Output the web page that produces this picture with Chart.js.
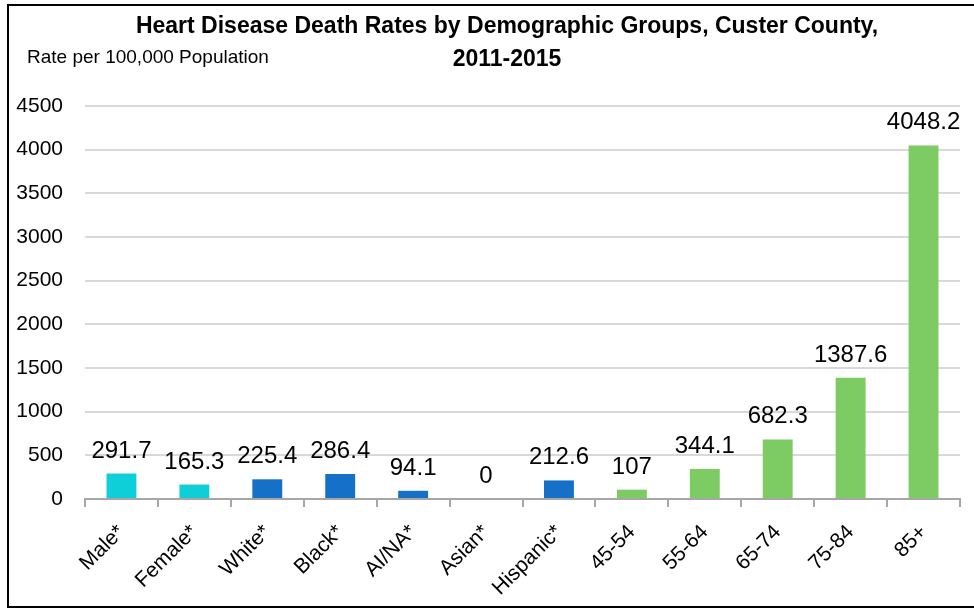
<!DOCTYPE html>
<html>
<head>
<meta charset="utf-8">
<script src="https://cdn.jsdelivr.net/npm/chart.js@4"></script>
<style>
  html, body { margin: 0; padding: 0; background: #fff; }
  #wrap { width: 974px; height: 609px; position: relative; }
</style>
</head>
<body>
<div id="wrap"><canvas id="myChart" width="974" height="609"></canvas></div>
<script>
var categories = ['Male*', 'Female*', 'White*', 'Black*', 'AI/NA*', 'Asian*', 'Hispanic*', '45-54', '55-64', '65-74', '75-84', '85+'];
var rates = [291.7, 165.3, 225.4, 286.4, 94.1, 0, 212.6, 107, 344.1, 682.3, 1387.6, 4048.2];
var barColors = ['#0ecfd8', '#0ecfd8', '#1570c8', '#1570c8', '#1570c8', '#1570c8', '#1570c8',
                 '#7dcb63', '#7dcb63', '#7dcb63', '#7dcb63', '#7dcb63'];
var titleLines = ['Heart Disease Death Rates by Demographic Groups, Custer County,', '2011-2015'];
var yLabel = 'Rate per 100,000 Population';

var FONT = "'Liberation Sans', Arial, sans-serif";

// value labels above bars, titles and the frame
var extras = {
    id: 'extras',
    afterDatasetsDraw: function (chart) {
        var ctx = chart.ctx;
        var meta = chart.getDatasetMeta(0);
        ctx.save();
        ctx.fillStyle = '#000';
        ctx.font = '24px ' + FONT;
        ctx.textAlign = 'center';
        ctx.textBaseline = 'alphabetic';
        meta.data.forEach(function (bar, i) {
            ctx.fillText(String(rates[i]), bar.x, bar.y - 16);
        });
        ctx.restore();
    },
    afterDraw: function (chart) {
        var ctx = chart.ctx;
        ctx.save();
        ctx.fillStyle = '#000';
        ctx.textAlign = 'center';
        ctx.textBaseline = 'middle';
        ctx.font = 'bold 23px ' + FONT;
        ctx.fillText(titleLines[0], 507, 27);
        ctx.fillText(titleLines[1], 507, 60);
        ctx.textAlign = 'left';
        ctx.font = '19px ' + FONT;
        ctx.fillText(yLabel, 27, 58);
        ctx.strokeStyle = '#000';
        ctx.lineWidth = 2;
        ctx.beginPath();
        ctx.moveTo(980, 5);
        ctx.lineTo(8, 5);
        ctx.lineTo(8, 607);
        ctx.lineTo(980, 607);
        ctx.stroke();
        ctx.restore();
    }
};

var ctx = document.getElementById('myChart').getContext('2d');
var myChart = new Chart(ctx, {
    type: 'bar',
    data: {
        labels: categories,
        datasets: [{
            data: rates,
            backgroundColor: barColors,
            barPercentage: 0.41,
            categoryPercentage: 1
        }]
    },
    options: {
        responsive: false,
        animation: false,
        layout: { padding: { top: 106, right: 14, left: 0, bottom: 0 } },
        plugins: {
            legend: { display: false },
            title: { display: false },
            tooltip: { enabled: false }
        },
        scales: {
            y: {
                min: 0,
                max: 4500,
                afterFit: function (scale) { scale.width = 85; },
                ticks: {
                    stepSize: 500,
                    color: '#000',
                    padding: 22,
                    font: { family: FONT, size: 21 },
                    callback: function (v) { return String(v); }
                },
                grid: { color: '#d9d9d9', lineWidth: 2, drawTicks: false },
                border: { display: false }
            },
            x: {
                afterFit: function (scale) { scale.height = 110; },
                ticks: {
                    color: '#000',
                    minRotation: 45,
                    maxRotation: 45,
                    padding: 13,
                    font: { family: FONT, size: 21 }
                },
                grid: { drawOnChartArea: false, color: '#a6a6a6', lineWidth: 2, tickLength: 8 },
                border: { color: '#a6a6a6', width: 2 }
            }
        }
    },
    plugins: [extras]
});
</script>
</body>
</html>
